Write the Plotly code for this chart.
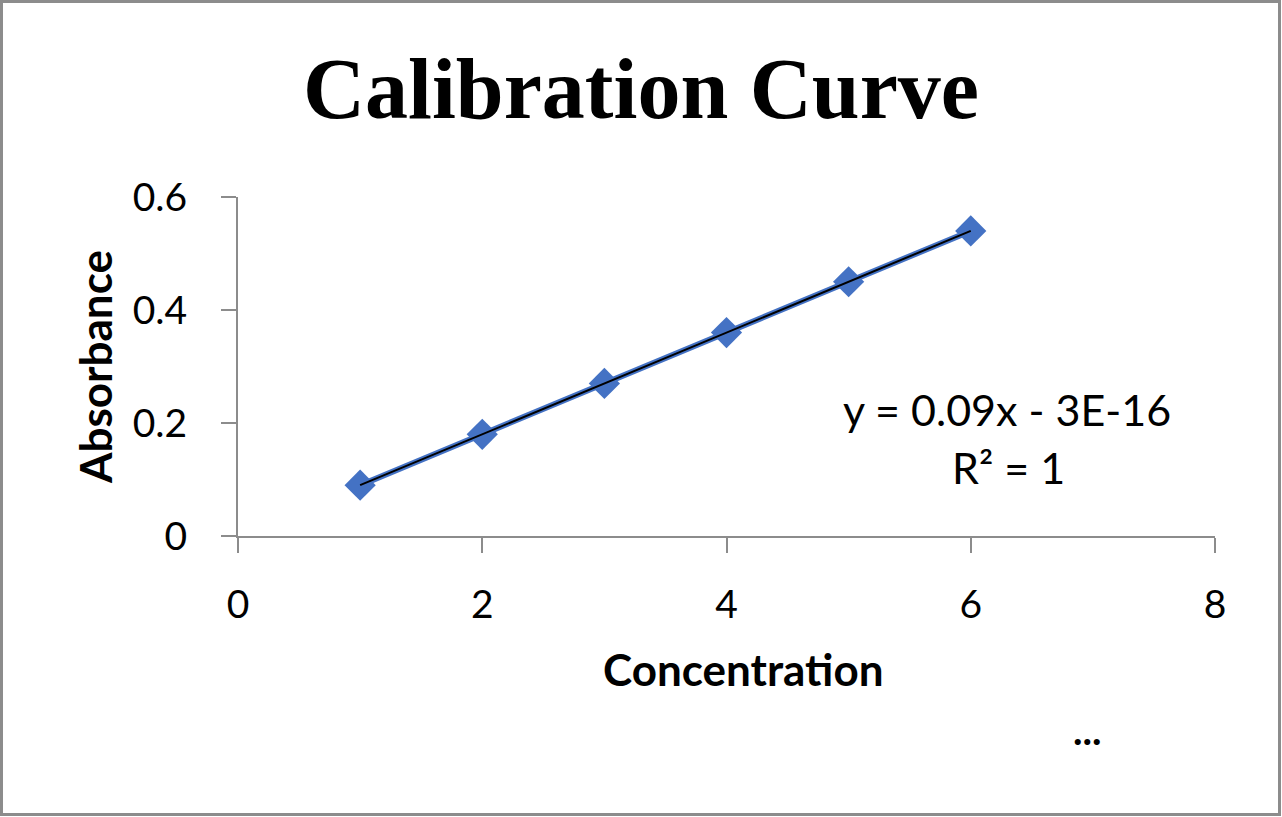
import numpy as np
import plotly.graph_objects as go

# Calibration data
concentration = [1, 2, 3, 4, 5, 6]
absorbance = [0.09, 0.18, 0.27, 0.36, 0.45, 0.54]
x_ticks = [0, 2, 4, 6, 8]
y_ticks = [0, 0.2, 0.4, 0.6]
equation_text = "y = 0.09x - 3E-16"
r2_text = "R² = 1"

# Linear trendline through the data (Excel style)
slope, intercept = np.polyfit(concentration, absorbance, 1)
trend_x = [concentration[0], concentration[-1]]
trend_y = [slope * v + intercept for v in trend_x]

W, H = 1282, 817
L, R, T, B = 238, 67, 197, 281
pw, ph = W - L - R, H - T - B

axis_grey = "#8c8c8c"
tick_font = dict(family="Lato", size=39, color="black")
label_font = dict(family="Lato", size=44, color="black")
note_font = dict(family="Lato", size=43, color="black")

fig = go.Figure()
fig.add_trace(go.Scatter(x=concentration, y=absorbance, mode="lines+markers",
                         line=dict(color="#4472C4", width=6),
                         marker=dict(symbol="diamond", size=24, color="#4472C4"),
                         showlegend=False))
fig.add_trace(go.Scatter(x=trend_x, y=trend_y, mode="lines",
                         line=dict(color="black", width=2), showlegend=False))

fig.update_layout(
    width=W, height=H, margin=dict(l=L, r=R, t=T, b=B),
    paper_bgcolor="white", plot_bgcolor="white",
    title=dict(text="<b>Calibration Curve</b>", x=0.5, xref="container", xanchor="center",
               y=1 - 88 / H, yref="container", yanchor="middle",
               font=dict(family="Liberation Serif", size=86, color="black")),
    xaxis=dict(range=[0, 8], tickvals=x_ticks, showgrid=False, zeroline=False,
               showline=True, linecolor=axis_grey, linewidth=2,
               ticks="outside", ticklen=15, tickwidth=2, tickcolor=axis_grey,
               tickfont=tick_font, ticklabelstandoff=18),
    yaxis=dict(range=[0, 0.6], tickvals=y_ticks, ticktext=["0", "0.2", "0.4", "0.6"],
               showgrid=False, zeroline=False,
               showline=True, linecolor=axis_grey, linewidth=2,
               ticks="outside", ticklen=15, tickwidth=2, tickcolor=axis_grey,
               tickfont=tick_font, ticklabelstandoff=26),
)

# Axis titles
fig.add_annotation(text="<b>Absorbance</b>", xref="paper", yref="paper",
                   x=(95 - L) / pw, y=(H - B - 367) / ph, textangle=-90,
                   showarrow=False, xanchor="center", yanchor="middle", font=label_font)
fig.add_annotation(text="<b>Concentration</b>", xref="paper", yref="paper",
                   x=(743 - L) / pw, y=(H - B - 669) / ph,
                   showarrow=False, xanchor="center", yanchor="middle", font=label_font)

# Trendline label
fig.add_annotation(text=equation_text, xref="paper", yref="paper",
                   x=(1007 - L) / pw, y=(H - B - 409) / ph,
                   showarrow=False, xanchor="center", yanchor="middle", font=note_font)
fig.add_annotation(text=r2_text, xref="paper", yref="paper",
                   x=(1008 - L) / pw, y=(H - B - 467) / ph,
                   showarrow=False, xanchor="center", yanchor="middle", font=note_font)
fig.add_annotation(text="<b>...</b>", xref="paper", yref="paper",
                   x=(1087 - L) / pw, y=(H - B - 730) / ph,
                   showarrow=False, xanchor="center", yanchor="middle",
                   font=dict(family="Lato", size=40, color="black"))

# Outer frame
fig.add_shape(type="rect", xref="paper", yref="paper",
              x0=(1.5 - L) / pw, x1=(W - 2.5 - L) / pw,
              y0=(H - B - (H - 2.5)) / ph, y1=(H - B - 1.5) / ph,
              line=dict(color=axis_grey, width=3), fillcolor="rgba(0,0,0,0)", layer="below")

fig.write_html("out.html", config={"displayModeBar": False},
               post_script="document.body.style.margin='0';")
